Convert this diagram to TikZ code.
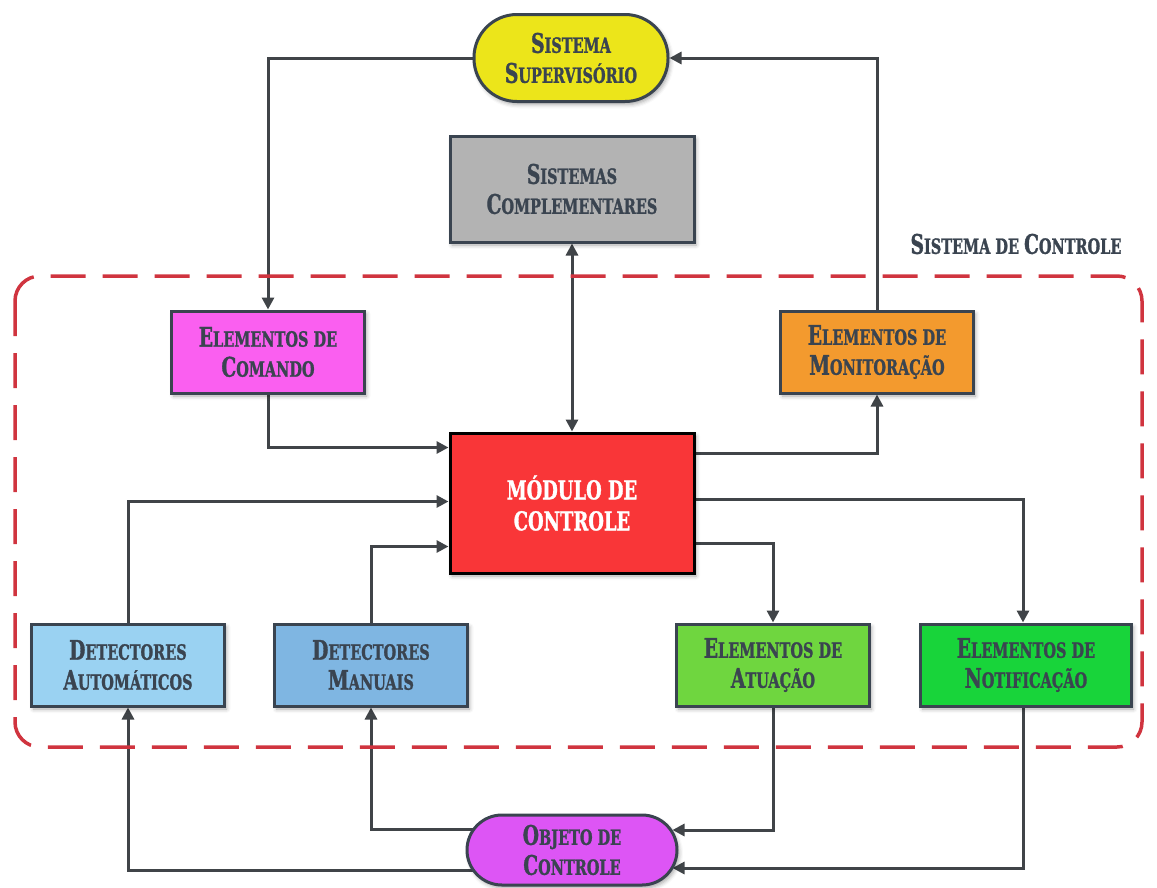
\documentclass[tikz,border=0pt]{standalone}
\usepackage{fontspec}
\setmainfont{DejaVu Serif}[FakeStretch=0.69, BoldFeatures={FakeBold=1.2}]
\usetikzlibrary{arrows.meta,calc,shadows.blur,backgrounds}

\definecolor{ink}{HTML}{3A4450}
\definecolor{wire}{HTML}{404448}
\definecolor{cYellow}{HTML}{ECE51A}
\definecolor{cGray}{HTML}{B3B3B3}
\definecolor{cPink}{HTML}{FA5FF0}
\definecolor{cOrange}{HTML}{F39A2E}
\definecolor{cRed}{HTML}{F93638}
\definecolor{cSky}{HTML}{9AD2F2}
\definecolor{cBlue}{HTML}{7FB6E2}
\definecolor{cLime}{HTML}{6FD63F}
\definecolor{cGreen}{HTML}{18D43A}
\definecolor{cViolet}{HTML}{DD55F5}
\definecolor{cDash}{HTML}{D0343F}

% fake small capitals: large initial, smaller remaining capitals
\newcommand\initcap[1]{{\fontsize{27}{31}\selectfont #1}}
\newcommand\restcap[1]{{\fontsize{21}{31}\selectfont #1}}

\tikzset{
  box/.style={draw=ink, line width=3pt, text=ink, align=center,
    minimum width=193pt, minimum height=82pt, inner sep=2pt,
    font=\bfseries\fontsize{21}{30}\selectfont,
    blur shadow={shadow xshift=2pt, shadow yshift=-3pt,
      shadow blur radius=4pt, shadow opacity=35}},
  pill/.style={box, rounded corners=#1},
  arr/.style={draw=wire, line width=3pt,
    -{Triangle[length=12pt,width=12pt]}},
  arrboth/.style={draw=wire, line width=3pt,
    {Triangle[length=12pt,width=12pt]}-{Triangle[length=12pt,width=12pt]}},
}

\begin{document}
\begin{tikzpicture}[x=1pt,y=-1pt]
\useasboundingbox (0,0) rectangle (1157,887);

% control-system boundary
\draw[cDash, line width=3.5pt, dash pattern=on 35pt off 17pt, rounded corners=25pt]
  (15,276) rectangle (1142,747);
\node[text=ink, font=\bfseries] (lbl) at (1016,244)
  {\initcap{S}\restcap{ISTEMA DE }\initcap{C}\restcap{ONTROLE}};

% blocks
\node[pill=43pt, fill=cYellow, minimum width=194pt, minimum height=87pt] (sup) at (571,58)
  {\initcap{S}\restcap{ISTEMA}\\\initcap{S}\restcap{UPERVISÓRIO}};
\node[box, fill=cGray, minimum width=244pt, minimum height=106pt] (comp) at (572,189)
  {\initcap{S}\restcap{ISTEMAS}\\\initcap{C}\restcap{OMPLEMENTARES}};
\node[box, fill=cPink] (cmd) at (268,352)
  {\initcap{E}\restcap{LEMENTOS DE}\\\initcap{C}\restcap{OMANDO}};
\node[box, fill=cOrange] (mon) at (877,352)
  {\initcap{E}\restcap{LEMENTOS DE}\\\initcap{M}\restcap{ONITORAÇÃO}};
\node[box, fill=cRed, draw=black, text=white, minimum width=244pt, minimum height=140pt,
  font=\bfseries\fontsize{26}{31}\selectfont] (mod) at (572,503)
  {MÓDULO DE\\CONTROLE};
\node[box, fill=cSky] (aut) at (128,665)
  {\initcap{D}\restcap{ETECTORES}\\\initcap{A}\restcap{UTOMÁTICOS}};
\node[box, fill=cBlue] (man) at (371,665)
  {\initcap{D}\restcap{ETECTORES}\\\initcap{M}\restcap{ANUAIS}};
\node[box, fill=cLime] (atu) at (773,665)
  {\initcap{E}\restcap{LEMENTOS DE}\\\initcap{A}\restcap{TUAÇÃO}};
\node[box, fill=cGreen, minimum width=211pt] (ntf) at (1026,665)
  {\initcap{E}\restcap{LEMENTOS DE}\\\initcap{N}\restcap{OTIFICAÇÃO}};
\node[pill=35pt, fill=cViolet, minimum width=210pt, minimum height=70pt] (obj) at (572,850)
  {\initcap{O}\restcap{BJETO DE}\\\initcap{C}\restcap{ONTROLE}};

% connectors
\begin{scope}[on background layer]
\draw[arr] (sup.west) -| (cmd.north);
\draw[arr] (mon.north) |- (sup.east);
\draw[arrboth] (comp.south) -- (mod.north);
\draw[arr] (cmd.south) |- ($(mod.north west)+(0,16)$);
\draw[arr] (aut.north) |- ($(mod.north west)+(0,70)$);
\draw[arr] (man.north) |- ($(mod.north west)+(0,115)$);
\draw[arr] ($(mod.north east)+(0,22)$) -| (mon.south);
\draw[arr] ($(mod.north east)+(0,68)$) -| ($(ntf.north)+(-3,0)$);
\draw[arr] ($(mod.north east)+(0,112)$) -| (atu.north);
\draw[arr] ($(obj.center)+(0,-21)$) -| (man.south);
\draw[arr] ($(obj.center)+(0,20)$) -| (aut.south);
\draw[arr] (atu.south) |- ($(obj.east)+(-6,-20)$);
\draw[arr] ($(ntf.south)+(-3,0)$) |- ($(obj.east)+(-6,18)$);
\end{scope}
\end{tikzpicture}
\end{document}
